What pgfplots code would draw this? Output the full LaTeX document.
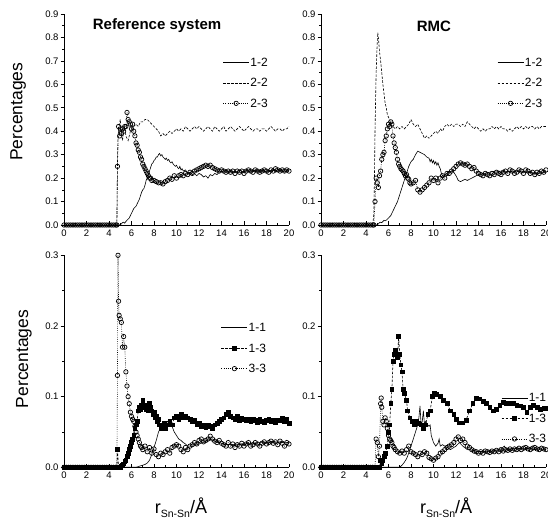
\documentclass[border=0pt]{standalone}
\usepackage{fontspec}
\setmainfont{Liberation Sans}
\usepackage{pgfplots}
\pgfplotsset{compat=1.18}
\pgfplotsset{
 panel/.style={
  scale only axis, width=225pt, anchor=south west,
  xmin=0, xmax=20, ymin=0, clip=false,
  axis lines*=left, axis line style={-, line width=0.6pt},
  xtick={0,2,4,6,8,10,12,14,16,18,20}, minor x tick num=1, minor y tick num=1,
  major tick length=3.5pt, minor tick length=2pt,
  every tick/.style={black, line width=0.6pt},
  major y tick style={xshift=-3.5pt}, minor y tick style={xshift=-2pt},
  /pgf/number format/assume math mode=true,
  yticklabel style={font=\fontsize{9.5}{11}\selectfont, xshift=-2pt, /pgf/number format/.cd, fixed, fixed zerofill, precision=1},
  xticklabel style={font=\fontsize{9.5}{11}\selectfont, yshift=-1pt},
  legend cell align=left,
  legend style={draw=none, fill=none, font=\fontsize{12}{13}\selectfont, anchor=north west,
    inner sep=0pt, row sep=10.5pt, nodes={inner sep=1pt, text height=8pt, text depth=0pt}},
  legend image code/.code={\draw[mark repeat=2,mark phase=2,##1] plot coordinates {(0pt,0pt) (13pt,0pt) (26pt,0pt)};},
  ylabel style={font=\fontsize{17.5}{19}\selectfont, anchor=center},
  xlabel style={font=\fontsize{18}{20}\selectfont, anchor=base},
 },
 s1/.style={black, line width=0.6pt, no markers},
 s2/.style={black, line width=0.6pt, dash pattern=on 2.5pt off 1.5pt, no markers},
 s3/.style={black, line width=0.6pt, dash pattern=on 0.8pt off 1.4pt, mark=o, mark size=2.2pt, mark options={solid, fill=white, line width=0.7pt}},
 s4/.style={black, line width=0.6pt, dash pattern=on 2.5pt off 1.5pt, mark=square*, mark size=1.9pt, mark options={solid, fill=black}},
}
\begin{document}
\begin{tikzpicture}
\useasboundingbox (0pt,0pt) rectangle (548pt,518pt);
\clip (0pt,0pt) rectangle (548pt,518pt);
% ---------- top left ----------
\begin{axis}[panel, at={(64pt,293pt)}, height=211pt, ymax=0.9,
  ytick={0,0.1,0.2,0.3,0.4,0.5,0.6,0.7,0.8,0.9},
  ylabel={Percentages}, ylabel style={at={(axis description cs:-0.204,0.537)}},
  legend style={at={(axis cs:14.1,0.716)}}]
\addplot[s1] coordinates {(0,0)(4.8,0)(5.0,0.0)(5.1,0.005)(5.2,0.01)(5.3,0.012)(5.4,0.008)(5.5,0.015)(5.6,0.02)(5.7,0.025)(5.8,0.03)(5.9,0.04)(6.0,0.05)(6.1,0.06)(6.2,0.07)(6.3,0.075)(6.4,0.08)(6.5,0.09)(6.6,0.1)(6.7,0.11)(6.8,0.125)(6.9,0.14)(7.0,0.15)(7.1,0.155)(7.2,0.17)(7.3,0.19)(7.4,0.2)(7.5,0.215)(7.6,0.23)(7.7,0.245)(7.8,0.26)(7.9,0.265)(8.0,0.275)(8.1,0.28)(8.2,0.29)(8.3,0.29)(8.4,0.3)(8.5,0.305)(8.6,0.295)(8.7,0.3)(8.8,0.29)(8.9,0.285)(9.0,0.28)(9.1,0.285)(9.2,0.275)(9.3,0.28)(9.4,0.27)(9.5,0.265)(9.6,0.27)(9.7,0.26)(9.8,0.255)(9.9,0.25)(10.0,0.255)(10.1,0.245)(10.2,0.24)(10.3,0.25)(10.4,0.235)(10.5,0.24)(10.6,0.23)(10.8,0.235)(11.0,0.22)(11.2,0.225)(11.4,0.215)(11.6,0.22)(11.8,0.21)(12.0,0.22)(12.2,0.215)(12.4,0.205)(12.6,0.21)(12.8,0.2)(13.0,0.215)(13.2,0.21)(13.4,0.22)(13.6,0.215)(13.8,0.225)(14.0,0.23)(14.2,0.225)(14.4,0.235)(14.6,0.225)(14.8,0.23)(15.0,0.225)(15.2,0.23)(15.4,0.225)(15.6,0.235)(15.8,0.23)(16.0,0.225)(16.2,0.235)(16.4,0.23)(16.6,0.225)(16.8,0.23)(17.0,0.235)(17.2,0.23)(17.4,0.225)(17.6,0.235)(17.8,0.23)(18.0,0.225)(18.2,0.235)(18.4,0.23)(18.6,0.235)(18.8,0.225)(19.0,0.23)(19.2,0.235)(19.4,0.23)(19.6,0.225)(19.8,0.235)(20.0,0.23)};
\addlegendentry{1-2}
\addplot[s2] coordinates {(0,0)(4.7,0.0)(4.75,0.25)(4.8,0.38)(4.9,0.42)(5.0,0.45)(5.1,0.4)(5.2,0.36)(5.3,0.4)(5.4,0.42)(5.5,0.38)(5.6,0.37)(5.7,0.36)(5.8,0.38)(5.9,0.4)(6.0,0.41)(6.2,0.42)(6.4,0.43)(6.6,0.42)(6.8,0.44)(7.0,0.44)(7.2,0.45)(7.4,0.45)(7.6,0.44)(7.8,0.43)(8.0,0.42)(8.2,0.41)(8.4,0.4)(8.6,0.38)(8.8,0.39)(9.0,0.38)(9.2,0.39)(9.4,0.4)(9.6,0.39)(9.8,0.4)(10.0,0.41)(10.2,0.4)(10.4,0.41)(10.6,0.4)(10.8,0.42)(11.0,0.41)(11.2,0.4)(11.4,0.41)(11.6,0.42)(11.8,0.41)(12.0,0.42)(12.2,0.41)(12.4,0.4)(12.6,0.41)(12.8,0.42)(13.0,0.41)(13.2,0.4)(13.4,0.42)(13.6,0.41)(13.8,0.4)(14.0,0.41)(14.2,0.42)(14.4,0.4)(14.6,0.41)(14.8,0.42)(15.0,0.41)(15.2,0.4)(15.4,0.41)(15.6,0.42)(15.8,0.41)(16.0,0.4)(16.2,0.41)(16.4,0.42)(16.6,0.41)(16.8,0.4)(17.0,0.41)(17.2,0.41)(17.4,0.4)(17.6,0.41)(17.8,0.41)(18.0,0.4)(18.2,0.41)(18.4,0.42)(18.6,0.41)(18.8,0.4)(19.0,0.41)(19.2,0.41)(19.4,0.4)(19.6,0.41)(19.8,0.41)(20.0,0.42)};
\addlegendentry{2-2}
\addplot[s3] coordinates {(0,0)(0.2,0)(0.4,0)(0.6,0)(0.8,0)(1.0,0)(1.2,0)(1.4,0)(1.6,0)(1.8,0)(2.0,0)(2.2,0)(2.4,0)(2.6,0)(2.8,0)(3.0,0)(3.2,0)(3.4,0)(3.6,0)(3.8,0)(4.0,0)(4.2,0)(4.4,0)(4.6,0)(4.7,0)(4.75,0.25)(4.85,0.42)(4.95,0.38)(5.0,0.41)(5.1,0.39)(5.2,0.41)(5.3,0.4)(5.4,0.42)(5.5,0.42)(5.6,0.48)(5.7,0.45)(5.8,0.44)(5.9,0.43)(6.0,0.41)(6.1,0.43)(6.2,0.4)(6.3,0.38)(6.4,0.35)(6.5,0.34)(6.6,0.32)(6.7,0.31)(6.8,0.29)(6.9,0.28)(7.0,0.26)(7.1,0.25)(7.2,0.24)(7.3,0.23)(7.4,0.22)(7.5,0.21)(7.6,0.2)(7.7,0.2)(7.8,0.19)(8.0,0.19)(8.2,0.185)(8.4,0.18)(8.6,0.18)(8.8,0.175)(9.0,0.185)(9.2,0.19)(9.4,0.2)(9.6,0.195)(9.8,0.21)(10.0,0.2)(10.2,0.21)(10.4,0.215)(10.6,0.21)(10.8,0.22)(11.0,0.215)(11.2,0.225)(11.4,0.22)(11.6,0.23)(11.8,0.235)(12.0,0.24)(12.2,0.245)(12.4,0.25)(12.6,0.255)(12.8,0.25)(13.0,0.255)(13.2,0.245)(13.4,0.24)(13.6,0.235)(13.8,0.23)(14.0,0.235)(14.2,0.23)(14.4,0.225)(14.6,0.23)(14.8,0.225)(15.0,0.23)(15.2,0.22)(15.4,0.23)(15.6,0.225)(15.8,0.23)(16.0,0.22)(16.2,0.23)(16.4,0.235)(16.6,0.23)(16.8,0.225)(17.0,0.235)(17.2,0.23)(17.4,0.225)(17.6,0.23)(17.8,0.235)(18.0,0.23)(18.2,0.225)(18.4,0.235)(18.6,0.23)(18.8,0.24)(19.0,0.235)(19.2,0.23)(19.4,0.235)(19.6,0.23)(19.8,0.235)(20.0,0.23)};
\addlegendentry{2-3}
\node[anchor=base, font=\fontsize{15}{16}\selectfont\bfseries] at (axis cs:8.27,0.835) {Reference system};
\end{axis}
% ---------- top right ----------
\begin{axis}[panel, at={(321pt,293pt)}, height=211pt, ymax=0.9,
  ytick={0,0.1,0.2,0.3,0.4,0.5,0.6,0.7,0.8,0.9},
  legend style={at={(axis cs:15.65,0.716)}}]
\addplot[s1] coordinates {(0,0)(5.0,0)(5.1,0.005)(5.2,0.01)(5.3,0.012)(5.4,0.01)(5.5,0.015)(5.6,0.02)(5.7,0.018)(5.8,0.02)(5.9,0.025)(6.0,0.03)(6.2,0.04)(6.4,0.06)(6.6,0.08)(6.8,0.1)(7.0,0.13)(7.2,0.16)(7.4,0.19)(7.6,0.22)(7.8,0.25)(8.0,0.27)(8.2,0.28)(8.4,0.3)(8.6,0.315)(8.8,0.31)(9.0,0.305)(9.2,0.3)(9.4,0.29)(9.6,0.285)(9.7,0.27)(9.8,0.28)(9.9,0.265)(10.0,0.275)(10.1,0.26)(10.2,0.27)(10.3,0.255)(10.4,0.265)(10.5,0.25)(10.6,0.24)(10.7,0.22)(10.8,0.21)(11.0,0.215)(11.2,0.22)(11.4,0.225)(11.6,0.23)(11.8,0.225)(12.0,0.21)(12.2,0.19)(12.4,0.185)(12.6,0.19)(12.8,0.195)(13.0,0.19)(13.2,0.195)(13.4,0.2)(13.6,0.205)(13.8,0.21)(14.0,0.215)(14.5,0.22)(15.0,0.225)(15.5,0.23)(16.0,0.23)(16.5,0.225)(17.0,0.23)(17.5,0.23)(18.0,0.225)(18.5,0.225)(19.0,0.22)(19.5,0.22)(20.0,0.225)};
\addlegendentry{1-2}
\addplot[s2] coordinates {(0,0)(4.6,0)(4.7,0.05)(4.75,0.2)(4.8,0.4)(4.9,0.65)(5.0,0.78)(5.05,0.82)(5.1,0.8)(5.2,0.74)(5.3,0.7)(5.4,0.65)(5.5,0.6)(5.6,0.56)(5.7,0.52)(5.8,0.5)(5.9,0.47)(6.0,0.46)(6.1,0.45)(6.2,0.43)(6.4,0.42)(6.6,0.41)(6.8,0.42)(7.0,0.41)(7.2,0.42)(7.4,0.41)(7.6,0.42)(7.8,0.43)(8.0,0.45)(8.2,0.43)(8.4,0.42)(8.6,0.43)(8.8,0.41)(9.0,0.39)(9.2,0.37)(9.4,0.38)(9.6,0.37)(9.8,0.38)(10.0,0.39)(10.2,0.4)(10.4,0.39)(10.6,0.41)(10.8,0.4)(11.0,0.42)(11.2,0.43)(11.4,0.42)(11.6,0.43)(11.8,0.42)(12.0,0.43)(12.2,0.43)(12.4,0.42)(12.6,0.43)(12.8,0.42)(13.0,0.44)(13.2,0.43)(13.4,0.42)(13.6,0.41)(13.8,0.42)(14.0,0.41)(14.2,0.4)(14.4,0.41)(14.6,0.4)(14.8,0.41)(15.0,0.41)(15.2,0.42)(15.4,0.41)(15.6,0.42)(15.8,0.41)(16.0,0.42)(16.2,0.41)(16.4,0.41)(16.6,0.4)(16.8,0.41)(17.0,0.4)(17.2,0.41)(17.4,0.42)(17.6,0.41)(17.8,0.42)(18.0,0.41)(18.2,0.42)(18.4,0.41)(18.6,0.42)(18.8,0.42)(19.0,0.41)(19.2,0.42)(19.4,0.41)(19.6,0.42)(19.8,0.42)(20.0,0.42)};
\addlegendentry{2-2}
\addplot[s3] coordinates {(0,0)(0.2,0)(0.4,0)(0.6,0)(0.8,0)(1.0,0)(1.2,0)(1.4,0)(1.6,0)(1.8,0)(2.0,0)(2.2,0)(2.4,0)(2.6,0)(2.8,0)(3.0,0)(3.2,0)(3.4,0)(3.6,0)(3.8,0)(4.0,0)(4.2,0)(4.4,0)(4.6,0)(4.7,0.0)(4.8,0.1)(4.9,0.2)(5.0,0.18)(5.1,0.16)(5.2,0.21)(5.3,0.23)(5.4,0.28)(5.5,0.3)(5.6,0.31)(5.7,0.36)(5.8,0.38)(5.9,0.41)(6.0,0.43)(6.1,0.42)(6.2,0.44)(6.3,0.43)(6.4,0.38)(6.5,0.35)(6.6,0.33)(6.7,0.31)(6.8,0.28)(6.9,0.26)(7.0,0.25)(7.1,0.24)(7.2,0.235)(7.3,0.23)(7.4,0.22)(7.5,0.21)(7.6,0.215)(7.7,0.2)(7.8,0.195)(7.9,0.18)(8.0,0.175)(8.2,0.18)(8.4,0.19)(8.6,0.15)(8.8,0.14)(9.0,0.15)(9.2,0.16)(9.4,0.17)(9.6,0.18)(9.8,0.2)(10.0,0.19)(10.2,0.2)(10.4,0.18)(10.6,0.2)(10.8,0.21)(11.0,0.2)(11.2,0.22)(11.4,0.22)(11.6,0.23)(11.8,0.24)(12.0,0.25)(12.2,0.26)(12.4,0.265)(12.6,0.26)(12.8,0.255)(13.0,0.26)(13.2,0.25)(13.4,0.24)(13.6,0.245)(13.8,0.23)(14.0,0.22)(14.2,0.215)(14.4,0.21)(14.6,0.22)(14.8,0.215)(15.0,0.21)(15.2,0.22)(15.4,0.215)(15.6,0.225)(15.8,0.22)(16.0,0.215)(16.2,0.225)(16.4,0.23)(16.6,0.22)(16.8,0.235)(17.0,0.23)(17.2,0.22)(17.4,0.225)(17.6,0.235)(17.8,0.23)(18.0,0.22)(18.2,0.235)(18.4,0.23)(18.6,0.22)(18.8,0.225)(19.0,0.215)(19.2,0.225)(19.4,0.22)(19.6,0.23)(19.8,0.225)(20.0,0.235)};
\addlegendentry{2-3}
\node[anchor=base, font=\fontsize{15}{16}\selectfont\bfseries] at (axis cs:10.04,0.825) {RMC};
\end{axis}
% ---------- bottom left ----------
\begin{axis}[panel, at={(64pt,50.7pt)}, height=212pt, ymax=0.3,
  ytick={0,0.1,0.2,0.3},
  ylabel={Percentages}, ylabel style={at={(axis description cs:-0.178,0.511)}},
  xlabel={r\raisebox{-4.5pt}{\fontsize{10.5}{11}\selectfont Sn-Sn}/Å},
  xlabel style={at={(axis description cs:0.52,-0.217)}},
  legend style={at={(axis cs:13.95,0.205)}}]
\addplot[s1] coordinates {(0,0)(6.2,0)(6.4,0.0)(6.6,0.001)(6.8,0.002)(7.0,0.003)(7.2,0.004)(7.4,0.006)(7.6,0.01)(7.8,0.018)(8.0,0.028)(8.2,0.038)(8.4,0.05)(8.6,0.056)(8.8,0.06)(9.0,0.062)(9.2,0.065)(9.4,0.06)(9.6,0.058)(9.8,0.05)(10.0,0.045)(10.2,0.04)(10.4,0.038)(10.6,0.035)(10.8,0.033)(11.0,0.03)(11.5,0.03)(12.0,0.033)(12.5,0.036)(13.0,0.04)(13.5,0.036)(14.0,0.034)(14.5,0.032)(15.0,0.032)(15.5,0.033)(16.0,0.033)(16.5,0.034)(17.0,0.034)(17.5,0.035)(18.0,0.035)(18.5,0.036)(19.0,0.036)(19.5,0.035)(20.0,0.035)};
\addlegendentry{1-1}
\addplot[s4] coordinates {(0,0)(0.2,0)(0.4,0)(0.6,0)(0.8,0)(1.0,0)(1.2,0)(1.4,0)(1.6,0)(1.8,0)(2.0,0)(2.2,0)(2.4,0)(2.6,0)(2.8,0)(3.0,0)(3.2,0)(3.4,0)(3.6,0)(3.8,0)(4.0,0)(4.2,0)(4.4,0)(4.6,0)(4.7,0.0)(4.75,0.026)(4.85,0.0)(5.0,0.0)(5.1,0.002)(5.2,0.003)(5.3,0.005)(5.4,0.008)(5.5,0.01)(5.6,0.015)(5.7,0.02)(5.8,0.025)(5.9,0.03)(6.0,0.035)(6.1,0.04)(6.2,0.045)(6.3,0.055)(6.4,0.06)(6.5,0.065)(6.6,0.08)(6.7,0.085)(6.8,0.082)(6.9,0.088)(7.0,0.095)(7.1,0.085)(7.2,0.088)(7.3,0.082)(7.4,0.086)(7.5,0.08)(7.6,0.09)(7.7,0.085)(7.8,0.08)(7.9,0.075)(8.0,0.078)(8.1,0.07)(8.2,0.072)(8.3,0.065)(8.4,0.068)(8.5,0.06)(8.6,0.055)(8.7,0.06)(8.8,0.058)(8.9,0.062)(9.0,0.055)(9.2,0.06)(9.4,0.065)(9.6,0.06)(9.8,0.07)(10.0,0.072)(10.2,0.068)(10.4,0.075)(10.6,0.07)(10.8,0.073)(11.0,0.07)(11.2,0.068)(11.4,0.065)(11.6,0.067)(11.8,0.06)(12.0,0.062)(12.2,0.058)(12.4,0.06)(12.6,0.056)(12.8,0.06)(13.0,0.058)(13.2,0.055)(13.4,0.06)(13.6,0.062)(13.8,0.065)(14.0,0.068)(14.2,0.07)(14.4,0.075)(14.6,0.078)(14.8,0.072)(15.0,0.07)(15.2,0.068)(15.4,0.072)(15.6,0.066)(15.8,0.07)(16.0,0.068)(16.2,0.066)(16.4,0.068)(16.6,0.065)(16.8,0.068)(17.0,0.066)(17.2,0.064)(17.4,0.068)(17.6,0.065)(17.8,0.063)(18.0,0.066)(18.2,0.068)(18.4,0.065)(18.6,0.066)(18.8,0.064)(19.0,0.067)(19.2,0.066)(19.4,0.07)(19.6,0.065)(19.8,0.068)(20.0,0.062)};
\addlegendentry{1-3}
\addplot[s3] coordinates {(0,0)(0.2,0)(0.4,0)(0.6,0)(0.8,0)(1.0,0)(1.2,0)(1.4,0)(1.6,0)(1.8,0)(2.0,0)(2.2,0)(2.4,0)(2.6,0)(2.8,0)(3.0,0)(3.2,0)(3.4,0)(3.6,0)(3.8,0)(4.0,0)(4.2,0)(4.4,0)(4.6,0)(4.7,0.0)(4.75,0.13)(4.8,0.30)(4.85,0.235)(4.9,0.215)(5.0,0.21)(5.1,0.205)(5.2,0.17)(5.3,0.185)(5.4,0.17)(5.5,0.135)(5.6,0.115)(5.7,0.1)(5.8,0.09)(5.9,0.078)(6.0,0.072)(6.1,0.068)(6.2,0.065)(6.3,0.058)(6.4,0.05)(6.5,0.045)(6.6,0.04)(6.7,0.035)(6.8,0.03)(6.9,0.028)(7.0,0.025)(7.2,0.03)(7.4,0.022)(7.6,0.028)(7.8,0.02)(8.0,0.026)(8.2,0.018)(8.4,0.015)(8.6,0.02)(8.8,0.018)(9.0,0.022)(9.2,0.025)(9.4,0.02)(9.6,0.028)(9.8,0.03)(10.0,0.032)(10.2,0.03)(10.4,0.025)(10.6,0.022)(10.8,0.028)(11.0,0.025)(11.2,0.03)(11.4,0.032)(11.6,0.035)(11.8,0.033)(12.0,0.038)(12.2,0.04)(12.4,0.036)(12.6,0.038)(12.8,0.04)(13.0,0.044)(13.2,0.04)(13.4,0.037)(13.6,0.035)(13.8,0.038)(14.0,0.034)(14.2,0.032)(14.4,0.03)(14.6,0.035)(14.8,0.03)(15.0,0.033)(15.2,0.028)(15.4,0.032)(15.6,0.03)(15.8,0.034)(16.0,0.03)(16.2,0.033)(16.4,0.035)(16.6,0.03)(16.8,0.032)(17.0,0.035)(17.2,0.033)(17.4,0.03)(17.6,0.034)(17.8,0.036)(18.0,0.033)(18.2,0.035)(18.4,0.037)(18.6,0.034)(18.8,0.036)(19.0,0.032)(19.2,0.037)(19.4,0.034)(19.6,0.03)(19.8,0.035)(20.0,0.033)};
\addlegendentry{3-3}
\end{axis}
% ---------- bottom right ----------
\begin{axis}[panel, at={(321pt,50.7pt)}, height=212pt, ymax=0.3,
  ytick={0,0.1,0.2,0.3},
  xlabel={r\raisebox{-4.5pt}{\fontsize{10.5}{11}\selectfont Sn-Sn}/Å},
  xlabel style={at={(axis description cs:0.556,-0.217)}},
  legend style={at={(axis cs:16.0,0.1055)}}]
\addplot[s1] coordinates {(0,0)(6.8,0)(7.0,0.0)(7.2,0.003)(7.4,0.007)(7.6,0.012)(7.8,0.02)(8.0,0.03)(8.2,0.04)(8.4,0.05)(8.6,0.06)(8.7,0.07)(8.8,0.087)(8.9,0.06)(9.0,0.065)(9.1,0.08)(9.2,0.06)(9.3,0.065)(9.4,0.062)(9.6,0.058)(9.7,0.06)(9.8,0.045)(10.0,0.035)(10.2,0.03)(10.4,0.034)(10.5,0.04)(10.6,0.03)(10.8,0.032)(11.0,0.03)(11.5,0.025)(12.0,0.03)(12.3,0.035)(12.6,0.03)(13.0,0.025)(13.5,0.024)(14.0,0.022)(14.5,0.023)(15.0,0.022)(15.5,0.024)(16.0,0.026)(16.3,0.03)(16.5,0.025)(17.0,0.026)(17.5,0.027)(18.0,0.026)(18.5,0.027)(19.0,0.025)(19.5,0.026)(20.0,0.025)};
\addlegendentry{1-1}
\addplot[s4] coordinates {(0,0)(0.2,0)(0.4,0)(0.6,0)(0.8,0)(1.0,0)(1.2,0)(1.4,0)(1.6,0)(1.8,0)(2.0,0)(2.2,0)(2.4,0)(2.6,0)(2.8,0)(3.0,0)(3.2,0)(3.4,0)(3.6,0)(3.8,0)(4.0,0)(4.2,0)(4.4,0)(4.6,0)(4.8,0)(5.0,0)(5.2,0)(5.3,0.01)(5.4,0.005)(5.5,0.01)(5.6,0.015)(5.7,0.02)(5.9,0.03)(6.0,0.05)(6.1,0.06)(6.2,0.09)(6.3,0.11)(6.4,0.15)(6.5,0.16)(6.6,0.165)(6.7,0.16)(6.8,0.155)(6.9,0.185)(7.0,0.16)(7.1,0.145)(7.2,0.135)(7.3,0.11)(7.4,0.105)(7.6,0.095)(7.7,0.08)(7.9,0.07)(8.1,0.065)(8.3,0.06)(8.5,0.065)(8.7,0.062)(8.9,0.06)(9.1,0.055)(9.3,0.06)(9.5,0.075)(9.7,0.08)(9.9,0.1)(10.1,0.105)(10.3,0.103)(10.6,0.1)(10.9,0.095)(11.2,0.09)(11.5,0.08)(11.8,0.075)(12.0,0.068)(12.3,0.063)(12.6,0.063)(12.9,0.067)(13.2,0.08)(13.5,0.09)(13.8,0.098)(14.1,0.097)(14.4,0.093)(14.7,0.09)(15.0,0.085)(15.3,0.08)(15.6,0.082)(15.9,0.088)(16.2,0.092)(16.5,0.09)(16.8,0.09)(17.1,0.09)(17.4,0.088)(17.7,0.087)(18.0,0.085)(18.3,0.078)(18.6,0.085)(18.9,0.088)(19.2,0.085)(19.5,0.082)(19.8,0.084)(20.0,0.083)};
\addlegendentry{1-3}
\addplot[s3] coordinates {(0,0)(0.2,0)(0.4,0)(0.6,0)(0.8,0)(1.0,0)(1.2,0)(1.4,0)(1.6,0)(1.8,0)(2.0,0)(2.2,0)(2.4,0)(2.6,0)(2.8,0)(3.0,0)(3.2,0)(3.4,0)(3.6,0)(3.8,0)(4.0,0)(4.2,0)(4.4,0)(4.6,0)(4.8,0)(4.9,0.04)(5.0,0.035)(5.1,0.015)(5.2,0.03)(5.3,0.09)(5.35,0.098)(5.4,0.085)(5.5,0.065)(5.6,0.06)(5.7,0.07)(5.8,0.065)(5.9,0.055)(6.0,0.045)(6.1,0.04)(6.2,0.038)(6.3,0.035)(6.4,0.03)(6.5,0.028)(6.6,0.025)(6.8,0.022)(7.0,0.02)(7.2,0.023)(7.4,0.02)(7.6,0.025)(7.8,0.03)(8.0,0.022)(8.2,0.02)(8.4,0.018)(8.6,0.015)(8.8,0.02)(9.0,0.018)(9.2,0.022)(9.4,0.02)(9.6,0.014)(9.8,0.012)(10.0,0.01)(10.2,0.013)(10.4,0.015)(10.6,0.02)(10.8,0.022)(11.0,0.025)(11.2,0.028)(11.4,0.03)(11.6,0.032)(11.8,0.035)(12.0,0.04)(12.2,0.043)(12.4,0.038)(12.6,0.04)(12.8,0.035)(13.0,0.03)(13.2,0.028)(13.4,0.025)(13.6,0.023)(13.8,0.022)(14.0,0.02)(14.2,0.022)(14.4,0.02)(14.6,0.023)(14.8,0.022)(15.0,0.021)(15.2,0.023)(15.4,0.022)(15.6,0.024)(15.8,0.022)(16.0,0.025)(16.2,0.023)(16.4,0.025)(16.6,0.024)(16.8,0.026)(17.0,0.024)(17.2,0.026)(17.4,0.025)(17.6,0.027)(17.8,0.025)(18.0,0.027)(18.2,0.028)(18.4,0.026)(18.6,0.025)(18.8,0.027)(19.0,0.028)(19.2,0.026)(19.4,0.025)(19.6,0.027)(19.8,0.026)(20.0,0.025)};
\addlegendentry{3-3}
\end{axis}
\end{tikzpicture}
\end{document}
